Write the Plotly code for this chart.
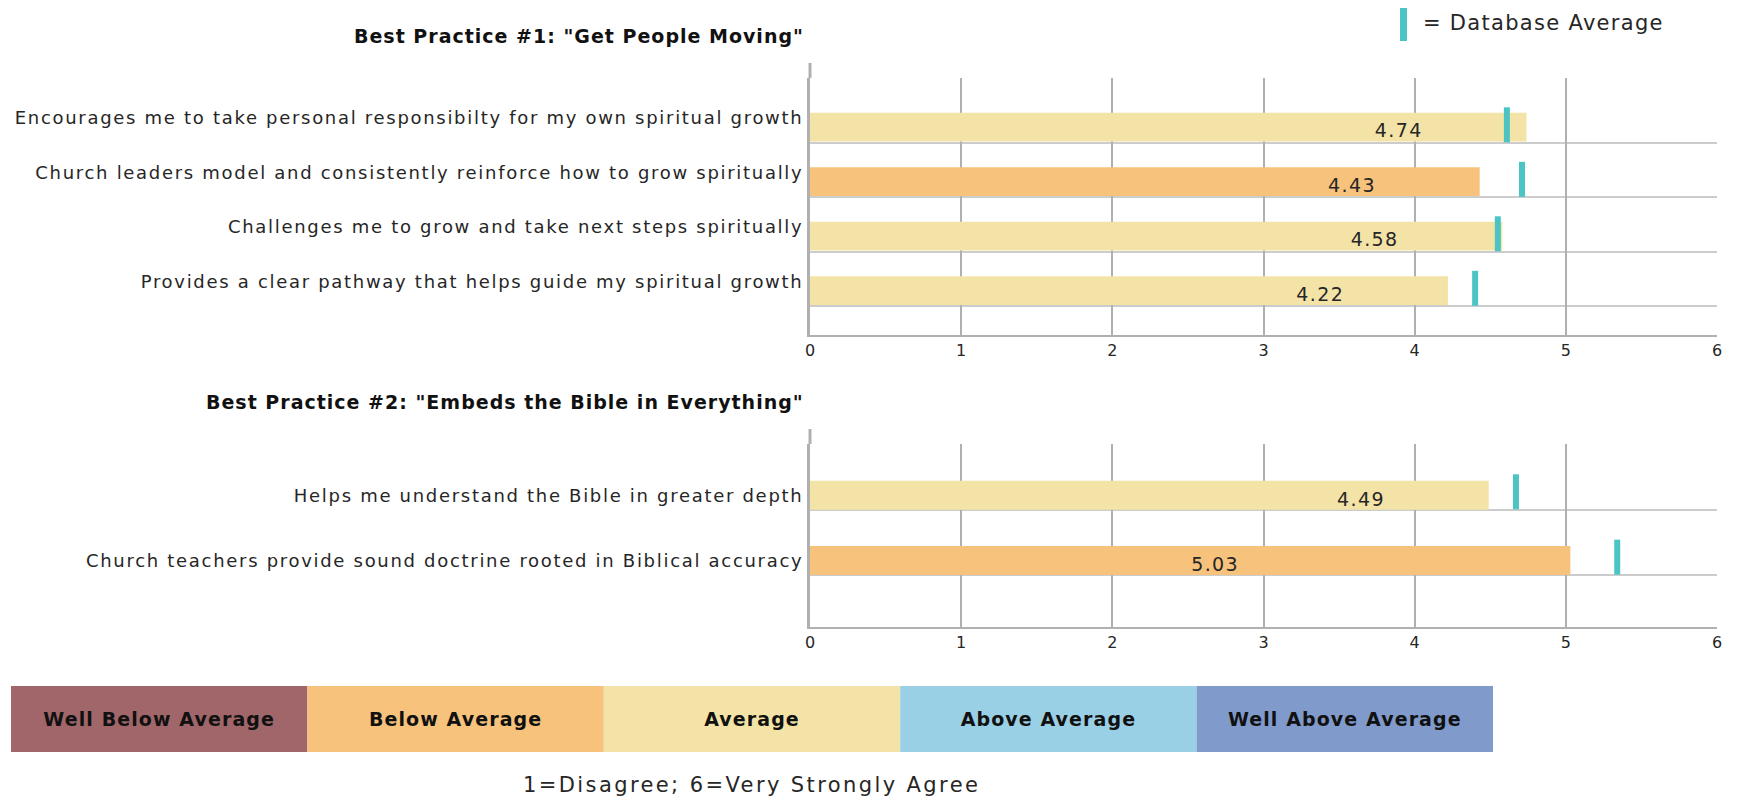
import plotly.graph_objects as go

# ---------------- data ----------------
bp1_title = 'Best Practice #1: "Get People Moving"'
bp1_items = [
    "Encourages me to take personal responsibilty for my own spiritual growth",
    "Church leaders model and consistently reinforce how to grow spiritually",
    "Challenges me to grow and take next steps spiritually",
    "Provides a clear pathway that helps guide my spiritual growth",
]
bp1_scores = [4.74, 4.43, 4.58, 4.22]
bp1_db_avg = [4.61, 4.71, 4.55, 4.40]
bp1_rating = ["Average", "Below Average", "Average", "Average"]

bp2_title = 'Best Practice #2: "Embeds the Bible in Everything"'
bp2_items = [
    "Helps me understand the Bible in greater depth",
    "Church teachers provide sound doctrine rooted in Biblical accuracy",
]
bp2_scores = [4.49, 5.03]
bp2_db_avg = [4.67, 5.34]
bp2_rating = ["Average", "Below Average"]

rating_levels = ["Well Below Average", "Below Average", "Average",
                 "Above Average", "Well Above Average"]
x_ticks = [0, 1, 2, 3, 4, 5, 6]
legend_label = "= Database Average"
scale_note = "1=Disagree; 6=Very Strongly Agree"

# ---------------- style ----------------
OFF = 8                      # page body margin
FW, FH = 1741 - 2 * OFF, 804 - 2 * OFF

palette = {
    "Well Below Average": "#A0666A",
    "Below Average": "#F7C27B",
    "Average": "#F4E3A6",
    "Above Average": "#9AD0E5",
    "Well Above Average": "#7F9ACB",
}
TEAL = "#4DC4C4"
GRID = "#B0B0B0"
SEP = "#CCCCCC"
TXT = "#262626"
FONT = "DejaVu Sans"


def px_x(p):
    return (p - OFF) / FW


def px_y(p):
    return 1 - (p - OFF) / FH


def spaced(t, ls):
    return f'<span style="letter-spacing:{ls}px">{t}</span>'


fig = go.Figure()

panels = [
    dict(items=bp1_items, scores=bp1_scores, avg=bp1_db_avg, rating=bp1_rating,
         xa="x", ya="y", top=78, bottom=335, axis_top=63,
         yrange=[3.815, -0.901], bar_w=0.53, tick_off=-0.17, sep_off=0.283,
         mk_off=-0.042, lbl_off=0.1, title=bp1_title, title_y=36),
    dict(items=bp2_items, scores=bp2_scores, avg=bp2_db_avg, rating=bp2_rating,
         xa="x2", ya="y2", top=444, bottom=627, axis_top=429,
         yrange=[2.018, -0.784], bar_w=0.444, tick_off=0.0, sep_off=0.227,
         mk_off=-0.052, lbl_off=0.085, title=bp2_title, title_y=402),
]

label_shift = 0.845              # value labels sit left of bar end
label_override = {(1, 1): 2.68}  # the 5.03 label sits further left
MARKER_LEN = 35                  # px length of the average tick

annotations = []
shapes = []
for pi, p in enumerate(panels):
    rows = list(range(len(p["items"])))
    fig.add_trace(go.Bar(
        x=p["scores"], y=rows, orientation="h", width=p["bar_w"],
        marker=dict(color=[palette[r] for r in p["rating"]], line=dict(width=0)),
        xaxis=p["xa"], yaxis=p["ya"], showlegend=False, hoverinfo="x",
    ))
    fig.add_trace(go.Scatter(
        x=p["avg"], y=[r + p["mk_off"] for r in rows], mode="markers",
        marker=dict(symbol="line-ns", size=MARKER_LEN / 1.4, color=TEAL,
                    line=dict(width=6, color=TEAL)),
        xaxis=p["xa"], yaxis=p["ya"], showlegend=False, hoverinfo="x",
        cliponaxis=False,
    ))
    lx = [label_override.get((pi, i), v - label_shift) for i, v in enumerate(p["scores"])]
    fig.add_trace(go.Scatter(
        x=lx, y=[r + p["lbl_off"] for r in rows], mode="text",
        text=[spaced(f"{v:.2f}", 1.4) for v in p["scores"]],
        textfont=dict(family=FONT, size=19, color=TXT),
        xaxis=p["xa"], yaxis=p["ya"], showlegend=False, hoverinfo="skip",
    ))
    sfx = "" if pi == 0 else "2"
    fig.layout["xaxis" + sfx] = dict(
        domain=[px_x(810), px_x(1717)], range=[0, 6], tickvals=x_ticks,
        showgrid=True, gridcolor=GRID, gridwidth=2, zeroline=False,
        showline=True, linecolor=GRID, linewidth=2, ticks="",
        tickfont=dict(family=FONT, size=16, color=TXT),
        anchor="y" + sfx, fixedrange=True, automargin=False,
    )
    fig.layout["yaxis" + sfx] = dict(
        domain=[px_y(p["bottom"]), px_y(p["top"])], range=p["yrange"],
        tickvals=[r + p["tick_off"] for r in rows],
        ticktext=[spaced(t, 1.7) for t in p["items"]],
        showgrid=False, zeroline=False, showline=True, linecolor=GRID, linewidth=3,
        ticks="", ticklabelstandoff=0,
        tickfont=dict(family=FONT, size=18, color=TXT),
        minor=dict(tickvals=[r + p["sep_off"] for r in rows], showgrid=True,
                   gridcolor=SEP, gridwidth=2, ticks=""),
        anchor="x" + sfx, fixedrange=True, automargin=False,
    )
    shapes.append(dict(type="line", xref="paper", yref="paper",
                       x0=px_x(810), x1=px_x(810), y0=px_y(p["axis_top"]), y1=px_y(p["top"]),
                       line=dict(color=GRID, width=3)))
    annotations.append(dict(text=spaced(p["title"], 1.0), xref="paper", yref="paper",
                            x=px_x(806), y=px_y(p["title_y"]), xanchor="right", yanchor="middle",
                            showarrow=False,
                            font=dict(family=FONT, size=19, color="#111111", weight="bold")))

# rating colour band
fig.add_trace(go.Bar(
    x=[1] * len(rating_levels), base=list(range(len(rating_levels))),
    y=[0] * len(rating_levels), orientation="h", width=1,
    marker=dict(color=[palette[r] for r in rating_levels], line=dict(width=0)),
    text=[spaced(r, 1.1) for r in rating_levels], textposition="inside",
    insidetextanchor="middle", textangle=0,
    textfont=dict(family=FONT, size=19, color="#111111", weight="bold"),
    xaxis="x3", yaxis="y3", showlegend=False, hoverinfo="skip",
))
fig.layout["xaxis3"] = dict(domain=[px_x(11), px_x(1493)], range=[0, len(rating_levels)],
                            visible=False, anchor="y3", fixedrange=True, automargin=False)
fig.layout["yaxis3"] = dict(domain=[px_y(752), px_y(686)], range=[-0.5, 0.5],
                            visible=False, anchor="x3", fixedrange=True, automargin=False)

# database average key
shapes.append(dict(type="rect", xref="paper", yref="paper",
                   x0=px_x(1400), x1=px_x(1407), y0=px_y(41), y1=px_y(8),
                   fillcolor=TEAL, line=dict(width=0)))
annotations.append(dict(text=spaced(legend_label, 1.3), xref="paper", yref="paper",
                        x=px_x(1421), y=px_y(23), xanchor="left", yanchor="middle",
                        showarrow=False, font=dict(family=FONT, size=21, color=TXT)))
annotations.append(dict(text=spaced(scale_note, 2.4), xref="paper", yref="paper",
                        x=px_x(751), y=px_y(785), xanchor="center", yanchor="middle",
                        showarrow=False, font=dict(family=FONT, size=21, color=TXT)))

fig.update_layout(
    width=FW, height=FH, margin=dict(l=0, r=0, t=0, b=0, pad=0, autoexpand=False),
    paper_bgcolor="white", plot_bgcolor="white",
    barmode="overlay", showlegend=False,
    annotations=annotations, shapes=shapes,
    font=dict(family=FONT, color=TXT),
)

fig.write_html("out.html", config={"displayModeBar": False})
